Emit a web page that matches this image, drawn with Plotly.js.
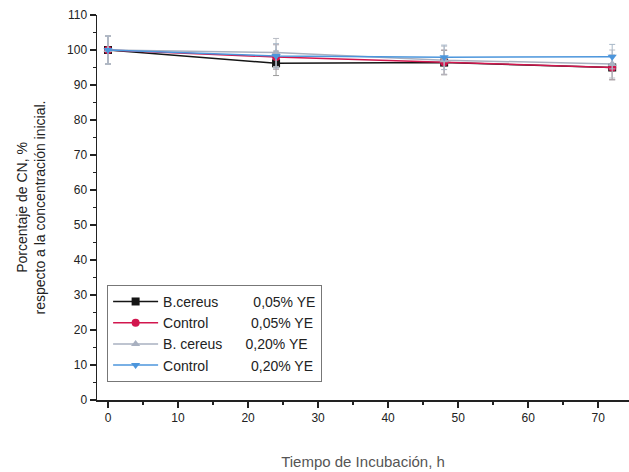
<!DOCTYPE html>
<html>
<head>
<meta charset="utf-8">
<script src="https://cdn.plot.ly/plotly-3.0.1.min.js"></script>
<style>html,body{margin:0;padding:0;background:#fff;}#chart{width:629px;height:472px;}</style>
</head>
<body>
<div id="chart"></div>
<script>
var hours = [0, 24, 48, 72];
var bcereus005 = [100, 96.2, 96.4, 95.0];
var bcereus005Err = [4, 3.5, 3.5, 3.5];
var control005 = [100, 98.0, 96.5, 95.0];
var control005Err = [4, 3.5, 3.5, 3.5];
var bcereus020 = [100, 99.3, 97.1, 96.0];
var bcereus020Err = [4, 4, 4, 4];
var control020 = [100, 98.3, 97.9, 98.1];
var control020Err = [4, 3.5, 3.5, 3.5];
var seriesNames = [
  "B.cereus&nbsp;&nbsp;&nbsp;&nbsp;&nbsp;&nbsp;&nbsp;&nbsp;&nbsp;0,05% YE",
  "Control&nbsp;&nbsp;&nbsp;&nbsp;&nbsp;&nbsp;&nbsp;&nbsp;&nbsp;&nbsp;&nbsp;0,05% YE",
  "B. cereus&nbsp;&nbsp;&nbsp;&nbsp;&nbsp;&nbsp;0,20% YE",
  "Control&nbsp;&nbsp;&nbsp;&nbsp;&nbsp;&nbsp;&nbsp;&nbsp;&nbsp;&nbsp;&nbsp;0,20% YE"
];

function tr(y, err, name, color, symbol, errColor) {
  return {
    x: hours, y: y, name: name, type: 'scatter', mode: 'lines+markers',
    line: {color: color, width: 1.5},
    marker: {color: color, symbol: symbol, size: 8},
    error_y: {type: 'data', array: err, visible: true, color: errColor, thickness: 1, width: 3}
  };
}

var data = [
  tr(bcereus005, bcereus005Err, seriesNames[0], '#151515', 'square', '#9a9a9a'),
  tr(control005, control005Err, seriesNames[1], '#d2164e', 'circle', '#b0a0a8'),
  tr(bcereus020, bcereus020Err, seriesNames[2], '#a8b0c0', 'triangle-up', '#b8bcc4'),
  tr(control020, control020Err, seriesNames[3], '#4c96dc', 'triangle-down', '#a8b8c8')
];

var font = {family: 'Liberation Sans, Arial, sans-serif', color: '#222'};

var layout = {
  width: 629, height: 472,
  margin: {l: 97, r: 0, t: 15, b: 72},
  paper_bgcolor: '#fff', plot_bgcolor: '#fff',
  font: font,
  showlegend: true,
  legend: {
    x: 0.019, y: 0.299, xanchor: 'left', yanchor: 'top',
    bordercolor: '#777', borderwidth: 1, bgcolor: '#fff',
    font: {family: font.family, size: 14, color: '#222'},
    tracegroupgap: 0, itemwidth: 45
  },
  xaxis: {
    range: [-1.57, 74.4], tickmode: 'array', tickvals: [0,10,20,30,40,50,60,70],
    showgrid: false, zeroline: false, showline: true, linecolor: '#222', linewidth: 1.5,
    ticks: 'outside', ticklen: 6, tickcolor: '#222', tickwidth: 1.5,
    minor: {dtick: 5, tick0: 0, ticks: 'outside', ticklen: 3, tickcolor: '#222'},
    tickfont: {family: font.family, size: 12, color: '#222'},
    title: {text: 'Tiempo de Incubación, h', font: {family: font.family, size: 15, color: '#555'}, standoff: 32}
  },
  yaxis: {
    range: [0, 110], tickmode: 'array', tickvals: [0,10,20,30,40,50,60,70,80,90,100,110],
    showgrid: false, zeroline: false, showline: true, linecolor: '#222', linewidth: 1.5,
    ticks: 'outside', ticklen: 6, tickcolor: '#222', tickwidth: 1.5,
    minor: {dtick: 5, tick0: 0, ticks: 'outside', ticklen: 3, tickcolor: '#222'},
    tickfont: {family: font.family, size: 12, color: '#222'},
    title: {text: 'Porcentaje de CN, %<br>respecto a la concentración inicial.', font: {family: font.family, size: 14, color: '#222'}, standoff: 18}
  }
};

Plotly.newPlot('chart', data, layout, {displayModeBar: false, staticPlot: true});
</script>
</body>
</html>
